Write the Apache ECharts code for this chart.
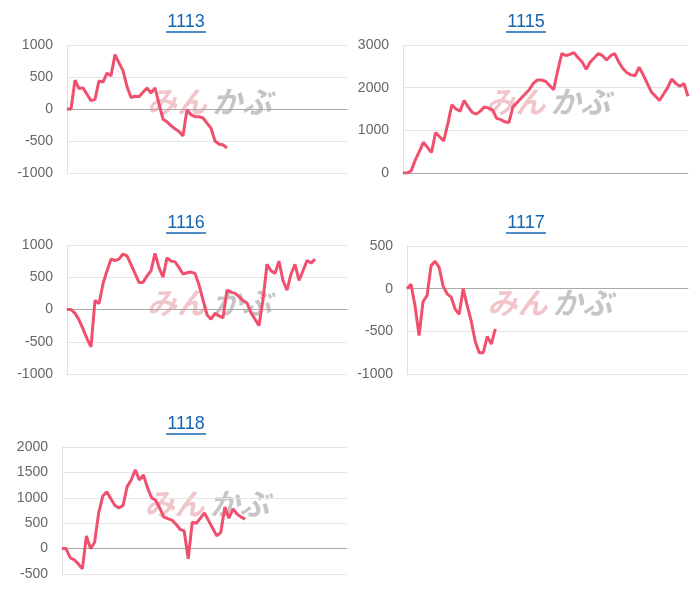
<!DOCTYPE html>
<html><head><meta charset="utf-8">
<script src="https://cdn.jsdelivr.net/npm/echarts@6/dist/echarts.min.js"></script>
<style>html,body{margin:0;background:#fff}#c{width:700px;height:600px}</style>
</head><body><div id="c"></div>
<script>
const titles = ['1113','1115','1116','1117','1118'];
const s1113 = [0,0,450,320,330,230,130,150,440,420,560,520,850,720,600,350,180,200,190,260,330,250,330,80,-160,-200,-260,-310,-350,-420,-10,-90,-120,-120,-140,-220,-300,-500,-550,-560,-610];
const s1115 = [0,0,50,300,500,720,600,480,950,850,750,1150,1600,1500,1450,1700,1550,1420,1380,1450,1550,1520,1480,1280,1250,1200,1180,1550,1650,1750,1850,1950,2100,2180,2180,2150,2050,1950,2400,2800,2750,2780,2820,2700,2600,2430,2600,2700,2800,2750,2650,2750,2800,2600,2450,2350,2300,2280,2480,2300,2100,1900,1800,1700,1850,2000,2200,2100,2030,2100,1800];
const s1116 = [0,0,-60,-160,-300,-450,-580,140,90,400,600,780,760,780,860,830,700,560,420,420,520,600,870,650,500,800,750,740,650,550,570,580,560,380,150,-80,-150,-60,-100,-130,300,270,250,200,140,100,-50,-150,-250,150,700,600,560,750,450,300,550,700,450,600,760,720,780];
const s1117 = [0,50,-200,-550,-150,-80,270,320,250,30,-60,-100,-240,-300,0,-200,-380,-620,-750,-750,-560,-650,-470];
const s1118 = [0,0,-180,-220,-300,-400,250,0,120,700,1030,1120,980,850,800,850,1220,1350,1550,1350,1450,1200,1000,950,800,620,590,560,480,380,350,-200,520,500,600,700,550,400,250,320,820,600,780,680,620,580];
const yMin = [-1000,0,-1000,-1000,-500];
const yMax = [1000,3000,1000,500,2000];
const yStep = [500,1000,500,500,500];
const N = 71;
const cats = Array.from({length:N},(_,i)=>String(i));
const series = [s1113,s1115,s1116,s1117,s1118];
const grids = [
 {left:67,top:45,width:280,height:128},
 {left:403,top:45,width:285,height:128},
 {left:67,top:245,width:280,height:129},
 {left:407,top:246,width:281,height:128},
 {left:62,top:447,width:285,height:127}];
const tpos = [[186,22],[526,22],[186,223],[526,223],[186,424]];
const graphic = [];
titles.forEach((t,i)=>{
  const g = grids[i];
  graphic.push({type:'text',x:g.left+g.width/2-60,y:g.top+g.height/2-22,z:0,style:{text:'みん',fill:'rgba(220,110,120,0.4)',font:'italic bold 30px "Noto Sans CJK JP"'}});
  graphic.push({type:'text',x:g.left+g.width/2+5,y:g.top+g.height/2-22,z:0,style:{text:'かぶ',fill:'rgba(140,140,140,0.5)',font:'italic bold 30px "Noto Sans CJK JP"'}});
  graphic.push({type:'text',x:tpos[i][0],y:tpos[i][1],style:{text:t,fill:'#1565b0',font:'18px "Liberation Sans", Arial',textAlign:'center',textVerticalAlign:'middle'}});
  graphic.push({type:'line',shape:{x1:tpos[i][0]-20,y1:tpos[i][1]+10,x2:tpos[i][0]+20,y2:tpos[i][1]+10},style:{stroke:'#1565b0',lineWidth:1.5}});
});
const opt = {animation:false,grid:grids,graphic,
 xAxis:grids.map((g,i)=>({type:'category',gridIndex:i,data:cats,boundaryGap:false,axisLabel:{show:false},axisTick:{show:false},axisLine:{onZero:true,lineStyle:{color:'#aaa'}},splitLine:{show:false}})),
 yAxis:grids.map((g,i)=>({type:'value',gridIndex:i,min:yMin[i],max:yMax[i],interval:yStep[i],axisLabel:{color:'#666',fontSize:14,fontFamily:'"Liberation Sans", Arial',margin:14,formatter:v=>String(v)},axisLine:{show:true,lineStyle:{color:'#e0e0e0'}},axisTick:{show:false},splitLine:{lineStyle:{color:'#e5e5e5'}}})),
 series:series.map((d,i)=>({type:'line',xAxisIndex:i,yAxisIndex:i,data:d,showSymbol:false,z:3,lineStyle:{color:'#f0506e',width:3},itemStyle:{color:'#f0506e'}}))
};
echarts.init(document.getElementById('c')).setOption(opt);
</script></body></html>
